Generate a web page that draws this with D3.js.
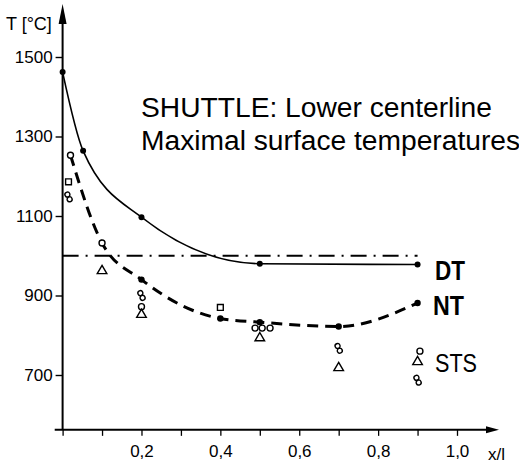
<!DOCTYPE html>
<html>
<head>
<meta charset="utf-8">
<script src="https://cdn.jsdelivr.net/npm/d3@7/dist/d3.min.js"></script>
<style>
  body { margin: 0; background: #fff; }
  svg { display: block; font-family: "Liberation Sans", Arial, sans-serif; }
</style>
</head>
<body>
<svg id="chart"></svg>
<script>
// size of the picture
var width = 519;
var height = 466;

// ---- data ----
// DT: solid line with filled dots
const dtX = [0, 0.052, 0.2, 0.5, 0.9];
const dtT = [1462, 1264, 1097, 980, 978];

// NT: dashed line, filled dots from 0.2 on
const ntX = [0.02, 0.1, 0.2, 0.4, 0.5, 0.7, 0.9];
const ntT = [1253, 1032, 940, 842, 833, 822, 881];
const ntDot = [false, false, true, true, true, true, true];

// reference level (dash-dot)
const refLevel = 1000;
const refFrom = 0;
const refTo = 0.9;

// STS flight data, by marker type
const stsCircles = [[0.02, 1253], [0.1, 1032], [0.2, 872], [0.488, 818], [0.506, 818], [0.526, 818], [0.906, 760]];
const stsTriangles = [[0.1, 962], [0.2, 852], [0.5, 793], [0.7, 718], [0.9, 733]];
const stsSquares = [[0.015, 1186], [0.4, 870]];
const stsEights = [[0.015, 1148], [0.2, 900], [0.7, 767], [0.9, 687]];

// axes
const yTicks = [700, 900, 1100, 1300, 1500];
const xTicks = [0, 0.1, 0.2, 0.3, 0.4, 0.5, 0.6, 0.7, 0.8, 0.9, 1.0];
const xTickLabels = ["", "", "0,2", "", "0,4", "", "0,6", "", "0,8", "", "1,0"];

const titleLines = ["SHUTTLE: Lower centerline", "Maximal surface temperatures"];

// ---- scales ----
var x = d3.scaleLinear().domain([0, 1]).range([62.6, 457]);
var y = d3.scaleLinear().domain([700, 1500]).range([375, 57]);

var svg = d3.select("#chart")
    .attr("width", width)
    .attr("height", height);

svg.append("rect").attr("width", width).attr("height", height).attr("fill", "#fff");

// ---- axes ----
var yAxis = d3.axisLeft(y)
    .tickValues(yTicks)
    .tickSize(7)
    .tickPadding(3)
    .tickFormat(d3.format("d"));

var gy = svg.append("g")
    .attr("transform", "translate(" + x(0) + ",0)")
    .call(yAxis);
gy.select(".domain").remove();
gy.selectAll("line").attr("stroke", "#000").attr("stroke-width", 1.4);
gy.selectAll("text").style("font-size", "17px").attr("fill", "#000");

var xAxis = d3.axisBottom(x)
    .tickValues(xTicks)
    .tickSize(6)
    .tickPadding(9)
    .tickFormat((d, i) => xTickLabels[i]);

var x0 = y(562);
var gx = svg.append("g")
    .attr("transform", "translate(0," + x0 + ")")
    .call(xAxis);
gx.select(".domain").remove();
gx.selectAll("line").attr("stroke", "#000").attr("stroke-width", 1.3);
gx.selectAll("text").style("font-size", "17px").attr("fill", "#000");

// axis lines with arrow heads
svg.append("line")
    .attr("x1", x(0)).attr("y1", x0)
    .attr("x2", x(0)).attr("y2", 12)
    .attr("stroke", "#000").attr("stroke-width", 2);
svg.append("path")
    .attr("d", d3.line()([[x(0) - 4, 24], [x(0), 4], [x(0) + 4, 24]]) + "Z")
    .attr("fill", "#000");

svg.append("line")
    .attr("x1", x(-0.02)).attr("y1", x0)
    .attr("x2", 492).attr("y2", x0)
    .attr("stroke", "#000").attr("stroke-width", 2);
svg.append("path")
    .attr("d", d3.line()([[486, x0 - 3.5], [499, x0], [486, x0 + 3.5]]) + "Z")
    .attr("fill", "#000");

svg.append("text")
    .attr("x", 6).attr("y", 30)
    .style("font-size", "18px")
    .text("T [°C]");

svg.append("text")
    .attr("x", 488).attr("y", 460)
    .style("font-size", "17px")
    .text("x/l");

// ---- lines ----
var line = d3.line()
    .x((d) => x(d[0]))
    .y((d) => y(d[1]))
    .curve(d3.curveMonotoneX);

// reference dash-dot
svg.append("line")
    .attr("x1", x(refFrom)).attr("y1", y(refLevel))
    .attr("x2", x(refTo)).attr("y2", y(refLevel))
    .attr("stroke", "#000")
    .attr("stroke-width", 2)
    .attr("stroke-dasharray", "16,7,2,7");

// DT solid
var dtData = dtX.map((d, i) => [d, dtT[i]]);
svg.append("path")
    .attr("d", line(dtData))
    .attr("fill", "none")
    .attr("stroke", "#000")
    .attr("stroke-width", 1.6);

svg.selectAll(".dt-dot")
    .data(dtData)
    .enter().append("circle")
    .attr("class", "dt-dot")
    .attr("cx", (d) => x(d[0]))
    .attr("cy", (d) => y(d[1]))
    .attr("r", 3)
    .attr("fill", "#000");

// NT dashed
var ntData = ntX.map((d, i) => [d, ntT[i]]);
svg.append("path")
    .attr("d", line(ntData))
    .attr("fill", "none")
    .attr("stroke", "#000")
    .attr("stroke-width", 3)
    .attr("stroke-dasharray", "11,7");

svg.selectAll(".nt-dot")
    .data(ntData.filter((d, i) => ntDot[i]))
    .enter().append("circle")
    .attr("class", "nt-dot")
    .attr("cx", (d) => x(d[0]))
    .attr("cy", (d) => y(d[1]))
    .attr("r", 3.2)
    .attr("fill", "#000");

// ---- STS markers ----
var sts = svg.append("g")
    .attr("fill", "#fff")
    .attr("stroke", "#000")
    .attr("stroke-width", 1.4);

sts.selectAll(".c")
    .data(stsCircles)
    .enter().append("circle")
    .attr("cx", (d) => x(d[0]))
    .attr("cy", (d) => y(d[1]))
    .attr("r", 3);

sts.selectAll(".t")
    .data(stsTriangles)
    .enter().append("path")
    .attr("d", d3.symbol().type(d3.symbolTriangle).size(40))
    .attr("transform", (d) => "translate(" + x(d[0]) + "," + y(d[1]) + ")");

sts.selectAll(".s")
    .data(stsSquares)
    .enter().append("path")
    .attr("d", d3.symbol().type(d3.symbolSquare).size(34))
    .attr("transform", (d) => "translate(" + x(d[0]) + "," + y(d[1]) + ")");

// figure-eight: two small circles
var eights = sts.selectAll(".e")
    .data(stsEights)
    .enter().append("g")
    .attr("transform", (d) => "translate(" + x(d[0]) + "," + y(d[1]) + ") rotate(-25)");
eights.append("circle").attr("cx", 0).attr("cy", -2.6).attr("r", 2.5);
eights.append("circle").attr("cx", 0).attr("cy", 2.6).attr("r", 2.5);

// ---- labels ----
svg.append("text")
    .attr("x", 435).attr("y", 280)
    .style("font-size", "28px").style("font-weight", "bold")
    .attr("textLength", 30).attr("lengthAdjust", "spacingAndGlyphs")
    .text("DT");

svg.append("text")
    .attr("x", 433).attr("y", 315)
    .style("font-size", "27px").style("font-weight", "bold")
    .attr("textLength", 31).attr("lengthAdjust", "spacingAndGlyphs")
    .text("NT");

svg.append("text")
    .attr("x", 435).attr("y", 372)
    .style("font-size", "25px")
    .attr("textLength", 42).attr("lengthAdjust", "spacingAndGlyphs")
    .text("STS");

svg.selectAll(".title")
    .data(titleLines)
    .enter().append("text")
    .attr("class", "title")
    .attr("x", 141)
    .attr("y", (d, i) => 117 + i * 33)
    .style("font-size", "28.2px")
    .text((d) => d);
</script>
</body>
</html>
